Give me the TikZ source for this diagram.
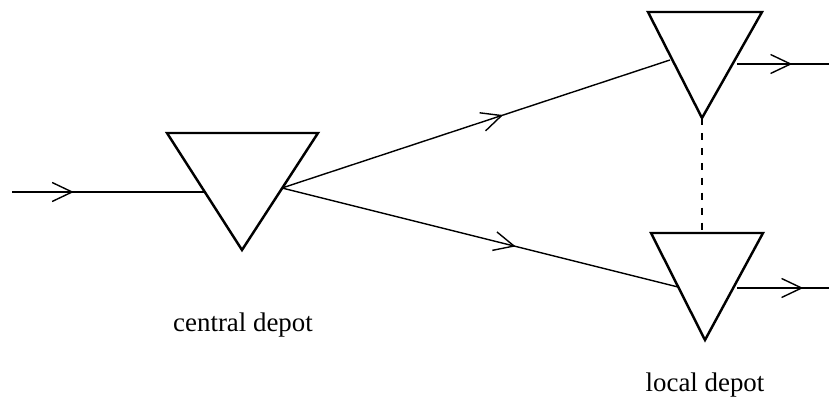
\documentclass[tikz,border=0pt]{standalone}
\usepackage{fontspec}
\setmainfont{Liberation Serif}
\usetikzlibrary{arrows.meta,decorations.markings}

\tikzset{
  depot/.style={line width=1.4pt, line join=miter},
  flow/.style={line width=0.8pt, postaction={decorate},
    decoration={markings, mark=at position #1 with
      {\arrow{Straight Barb[length=4mm,width=3.8mm,line width=0.8pt]}}}},
  flow/.default=0.55,
  link/.style={line width=0.9pt, dash pattern=on 4pt off 4.5pt},
  lbl/.style={font=\fontsize{15.3}{17}\selectfont}
}

\begin{document}
\begin{tikzpicture}[x=0.02cm, y=-0.02cm]
\useasboundingbox (0,0) rectangle (829,405);
% central depot
\coordinate (CA) at (167,133) ;
\coordinate (CB) at (318,133) ;
\coordinate (CC) at (242,250) ;
% upper local depot
\coordinate (UA) at (648,12) ;
\coordinate (UB) at (762,12) ;
\coordinate (UC) at (702,118) ;
% lower local depot
\coordinate (LA) at (651,233) ;
\coordinate (LB) at (763,233) ;
\coordinate (LC) at (705,340) ;
% ends of the flows
\coordinate (src) at (12,192) ;
\coordinate (cin) at (205,192) ;
\coordinate (cout) at (282,188) ;
\coordinate (uin) at (670,60) ;
\coordinate (uout) at (737,64) ;
\coordinate (usink) at (829,64) ;
\coordinate (lin) at (678,287) ;
\coordinate (lout) at (737,288) ;
\coordinate (lsink) at (829,288) ;
\draw[depot] (CA) -- (CB) -- (CC) -- cycle ;
\draw[depot] (UA) -- (UB) -- (UC) -- cycle ;
\draw[depot] (LA) -- (LB) -- (LC) -- cycle ;
\draw[flow=0.32] (src) -- (cin) ;
\draw[flow=0.57] (cout) -- (uin) ;
\draw[flow=0.59] (cout) -- (lin) ;
\draw[flow=0.6] (uout) -- (usink) ;
\draw[flow=0.72] (lout) -- (lsink) ;
\draw[link] (UC) -- (702,233) ;
\node[lbl] (central) at (243,325) {central depot} ;
\node[lbl] (local) at (705,385) {local depot} ;
\end{tikzpicture}
\end{document}
